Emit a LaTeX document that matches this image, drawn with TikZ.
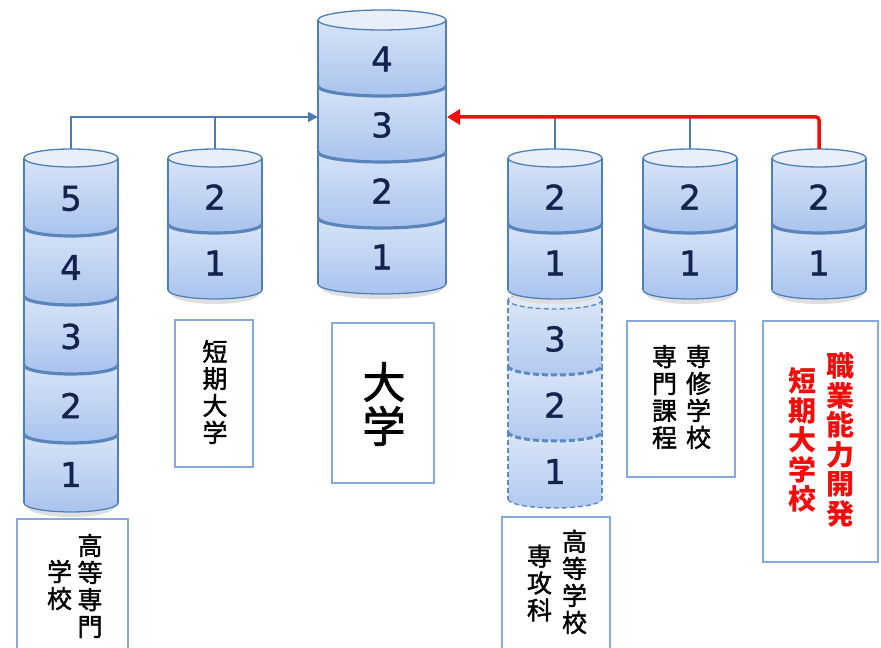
\documentclass[tikz,border=0pt]{standalone}
\usepackage{fontspec}
\newfontfamily\jp[FakeBold=1.6]{Noto Sans CJK JP}
\newfontfamily\jpb{Noto Sans CJK JP}
\newfontfamily\numfont[FakeBold=1.2]{DejaVu Sans}
\usetikzlibrary{arrows.meta}
\definecolor{segtop}{HTML}{DDE8F8}
\definecolor{segbot}{HTML}{A9C3EE}
\definecolor{segcap}{HTML}{E9EFF9}
\definecolor{segedge}{HTML}{4D7FBA}
\definecolor{divcol}{HTML}{5A85BC}
\definecolor{dashtop}{HTML}{DFE9F8}
\definecolor{dashbot}{HTML}{B2C9F0}
\definecolor{dashedge}{HTML}{5B8BC5}
\definecolor{numcol}{HTML}{14234E}
\definecolor{boxedge}{HTML}{86AADB}
\definecolor{conblue}{HTML}{4A7DB8}
\definecolor{conred}{HTML}{F20D0D}
% segment outline in px (y down): #1 cx #2 rx #3 ry #4 ytop #5 ybot
\newcommand\segshape[5]{({#1-#2},{648-#4}) -- ({#1-#2},{648-#5}) arc[start angle=180,end angle=360,x radius=#2,y radius=#3] -- ({#1+#2},{648-#4}) arc[start angle=0,end angle=180,x radius=#2,y radius=#3] -- cycle}
% #6 shade style, #7 side style, #8 bottom arc style
\newcommand\cylseg[8]{%
  \shade[#6] \segshape{#1}{#2}{#3}{#4}{#5};
  \draw[#7] ({#1-#2},{648-#4}) -- ({#1-#2},{648-#5});
  \draw[#7] ({#1+#2},{648-#4}) -- ({#1+#2},{648-#5});
  \draw[#8] ({#1-#2},{648-#5}) arc[start angle=180,end angle=360,x radius=#2,y radius=#3];
}
\newcommand\cylshadow[4]{% cx rx ry ybot
  \draw[black!13,line width=4pt] ({#1-#2+4},{648-#4-2}) arc[start angle=180,end angle=360,x radius={#2-4},y radius={#3+1}];
}
\newcommand\cylcap[4]{% cx rx ry ytop
  \draw[capfill] (#1,{648-#4}) ellipse[x radius=#2,y radius=#3];
}
\begin{document}
\begin{tikzpicture}[x=1pt,y=1pt,
  segshade/.style={top color=segtop,bottom color=segbot},
  segline/.style={draw=segedge,line width=1.3pt},
  divline/.style={draw=divcol,line width=3.2pt},
  dashshade/.style={top color=dashtop,bottom color=dashbot},
  dashline/.style={draw=dashedge,line width=1.4pt,dash pattern=on 5pt off 3pt},
  dashdiv/.style={draw=dashedge,line width=3pt,dash pattern=on 6pt off 3pt},
  capfill/.style={fill=segcap,draw=segedge,line width=1.3pt},
  dashcap/.style={fill=dashtop,draw=dashedge,line width=1.4pt,dash pattern=on 5pt off 3pt},
  digit/.style={font=\numfont\fontsize{34}{34}\selectfont,text=numcol,inner sep=0pt},
  lbox/.style={draw=boxedge,line width=1.5pt,fill=white,inner sep=0pt,outer sep=0pt},
  jtext/.style={font=\jp\fontsize{25}{27}\selectfont,align=center,inner sep=0pt,text=black},
  redtext/.style={font=\jpb\bfseries\fontsize{28}{29.5}\selectfont,align=center,inner sep=0pt,text=conred},
  blueline/.style={draw=conblue,line width=1.5pt},
  redline/.style={draw=conred,line width=3.5pt}
]
\useasboundingbox (0,0) rectangle (881,648);
\clip (0,0) rectangle (881,648);
\fill[white] (0,0) rectangle (881,648);

% ---------- cylinder 1 (5 segments) ----------
\cylshadow{71}{47}{9}{503}
\cylseg{71}{47}{9}{434}{503}{segshade}{segline}{segline}
\cylseg{71}{47}{9}{365}{434}{segshade}{segline}{divline}
\cylseg{71}{47}{9}{296}{365}{segshade}{segline}{divline}
\cylseg{71}{47}{9}{227}{296}{segshade}{segline}{divline}
\cylseg{71}{47}{9}{158}{227}{segshade}{segline}{divline}
\cylcap{71}{47}{9}{158}
\node[digit] (a5) at (71,{648-198.5}) {5};
\node[digit] (a4) at (71,{648-267.5}) {4};
\node[digit] (a3) at (71,{648-336.5}) {3};
\node[digit] (a2) at (71,{648-405.5}) {2};
\node[digit] (a1) at (71,{648-474.5}) {1};

% ---------- cylinder 2 ----------
\cylshadow{215}{47}{9}{290}
\cylseg{215}{47}{9}{224}{290}{segshade}{segline}{segline}
\cylseg{215}{47}{9}{158}{224}{segshade}{segline}{divline}
\cylcap{215}{47}{9}{158}
\node[digit] (b2) at (215,{648-197}) {2};
\node[digit] (b1) at (215,{648-263}) {1};

% ---------- center cylinder ----------
\cylshadow{382}{64}{10}{284}
\cylseg{382}{64}{10}{218}{284}{segshade}{segline}{segline}
\cylseg{382}{64}{10}{152}{218}{segshade}{segline}{divline}
\cylseg{382}{64}{10}{86}{152}{segshade}{segline}{divline}
\cylseg{382}{64}{10}{20}{86}{segshade}{segline}{divline}
\cylcap{382}{64}{10}{20}
\node[digit] (m4) at (382,{648-59}) {4};
\node[digit] (m3) at (382,{648-125}) {3};
\node[digit] (m2) at (382,{648-191}) {2};
\node[digit] (m1) at (382,{648-257}) {1};

% ---------- cylinder 4 dashed part ----------
\cylseg{555}{47}{9}{432}{499}{dashshade}{dashline}{dashline}
\cylseg{555}{47}{9}{366}{432}{dashshade}{dashline}{dashdiv}
\cylseg{555}{47}{9}{300}{366}{dashshade}{dashline}{dashdiv}
\draw[dashcap] (555,{648-300}) ellipse[x radius=47,y radius=9];
\node[digit] (d3) at (555,{648-339}) {3};
\node[digit] (d2) at (555,{648-405}) {2};
\node[digit] (d1) at (555,{648-471.5}) {1};

% ---------- cylinder 4 solid ----------
\cylshadow{555}{47}{9}{290}
\cylseg{555}{47}{9}{224}{290}{segshade}{segline}{segline}
\cylseg{555}{47}{9}{158}{224}{segshade}{segline}{divline}
\cylcap{555}{47}{9}{158}
\node[digit] (e2) at (555,{648-197}) {2};
\node[digit] (e1) at (555,{648-263}) {1};

% ---------- cylinder 5 ----------
\cylshadow{690}{47}{9}{290}
\cylseg{690}{47}{9}{224}{290}{segshade}{segline}{segline}
\cylseg{690}{47}{9}{158}{224}{segshade}{segline}{divline}
\cylcap{690}{47}{9}{158}
\node[digit] (f2) at (690,{648-197}) {2};
\node[digit] (f1) at (690,{648-263}) {1};

% ---------- cylinder 6 ----------
\cylshadow{819}{47}{9}{290}
\cylseg{819}{47}{9}{224}{290}{segshade}{segline}{segline}
\cylseg{819}{47}{9}{158}{224}{segshade}{segline}{divline}
\cylcap{819}{47}{9}{158}
\node[digit] (g2) at (819,{648-197}) {2};
\node[digit] (g1) at (819,{648-263}) {1};

% ---------- connectors ----------
\coordinate (c1top) at (71,{648-149});
\coordinate (c2top) at (215,{648-149});
\coordinate (c3L) at (318,{648-117});
\coordinate (c3R) at (447,{648-117});
\coordinate (c4top) at (555,{648-149});
\coordinate (c5top) at (690,{648-149});
\coordinate (c6top) at (819,{648-149});
\draw[blueline,-{Triangle[length=10pt,width=10pt]}] (c1top) |- (c3L);
\draw[blueline] (c2top) -- (c2top |- c3L);
\draw[blueline] (c4top) -- (c4top |- c3R);
\draw[blueline] (c5top) -- (c5top |- c3R);
\draw[redline,rounded corners=3pt,-{Triangle[length=13pt,width=15pt]}] (c6top) |- (c3R);

% ---------- label boxes ----------
\node[lbox,minimum width=111pt,minimum height=141pt] (box1) at (72.5,{648-589.5}) {};
\node[jtext] (t1a) at (90,{648-586}) {高\\等\\専\\門};
\node[jtext] (t1b) at (59.5,{648-585}) {学\\校};

\node[lbox,minimum width=78pt,minimum height=147pt] (box2) at (214,{648-393.5}) {};
\node[jtext] (t2) at (215,{648-392}) {短\\期\\大\\学};

\node[lbox,minimum width=102pt,minimum height=160pt] (box3) at (383,{648-403}) {};
\node[jtext,font=\jp\fontsize{43}{44}\selectfont] (t3) at (384,{648-404}) {大\\学};

\node[lbox,minimum width=108pt,minimum height=143pt] (box4) at (556,{648-588.5}) {};
\node[jtext] (t4a) at (574.5,{648-582}) {高\\等\\学\\校};
\node[jtext] (t4b) at (539.5,{648-583}) {専\\攻\\科};

\node[lbox,minimum width=108pt,minimum height=156pt] (box5) at (681,{648-399}) {};
\node[jtext] (t5a) at (698.5,{648-397}) {専\\修\\学\\校};
\node[jtext] (t5b) at (664.5,{648-397}) {専\\門\\課\\程};

\node[lbox,minimum width=115pt,minimum height=241pt] (box6) at (820.5,{648-441.5}) {};
\node[redtext] (t6a) at (840,{648-440}) {職\\業\\能\\力\\開\\発};
\node[redtext] (t6b) at (802.5,{648-440}) {短\\期\\大\\学\\校};
\end{tikzpicture}
\end{document}
